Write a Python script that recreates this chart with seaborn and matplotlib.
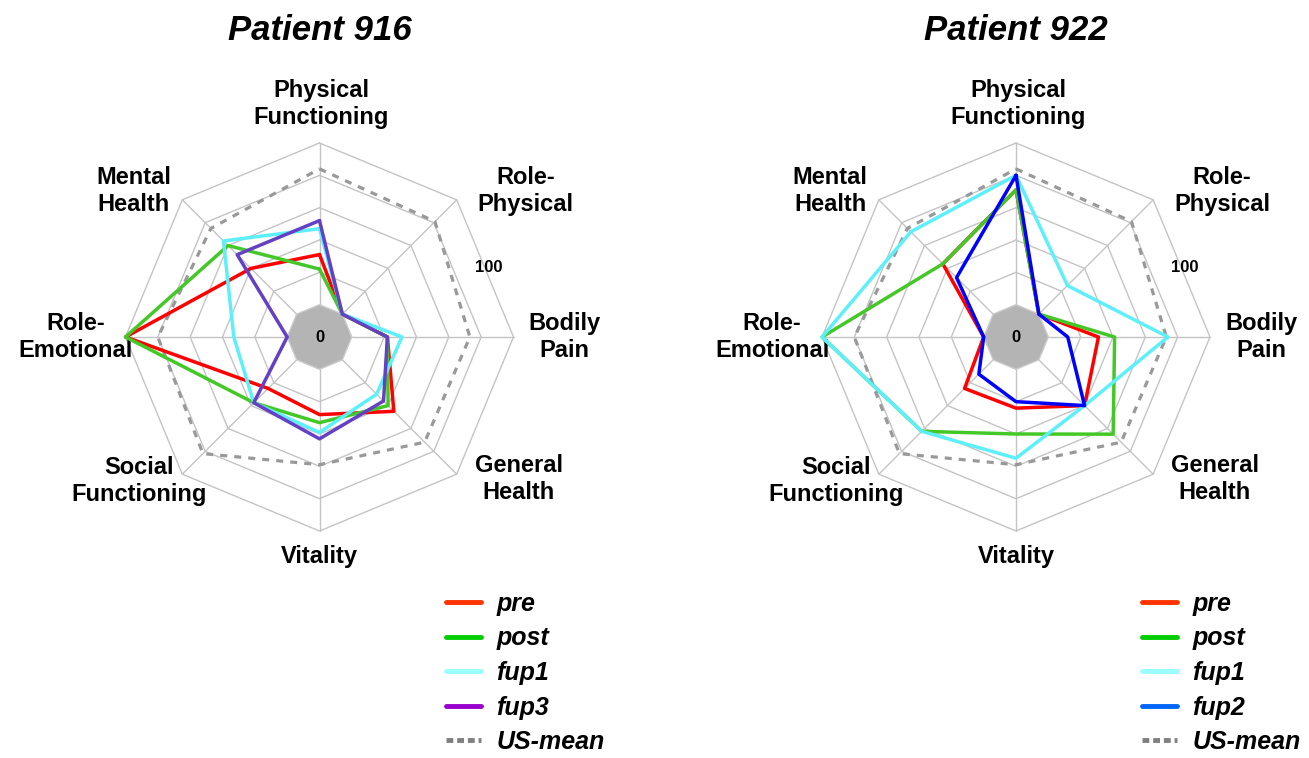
import numpy as np
import pandas as pd
import matplotlib
matplotlib.use('Agg')
import matplotlib.pyplot as plt
from matplotlib.lines import Line2D
from matplotlib.patches import RegularPolygon
import seaborn as sns

# SF-36 domains, clockwise from the top
categories = ['Physical\nFunctioning', 'Role-\nPhysical', 'Bodily\nPain', 'General\nHealth',
              'Vitality', 'Social\nFunctioning', 'Role-\nEmotional', 'Mental\nHealth']

us_mean = [84, 81, 73, 72, 59, 82, 80, 75]

p916_pre = [31, 0, 22, 45, 28, 25, 100, 40]
p916_post = [22, 0, 22, 40, 33, 37.5, 100, 60]
p916_fup1 = [47, 0, 31, 30, 39, 37.5, 33, 64]
p916_fup3 = [52, 0, 22, 36, 43, 37.5, 0, 52]

p922_pre = [71, 0, 31, 40, 24, 25, 0, 44]
p922_post = [71, 0, 41, 65, 40, 62.5, 100, 44]
p922_fup1 = [80, 25, 74, 40, 55, 62.5, 100, 72]
p922_fup2 = [80, 0, 12, 40, 20, 12.5, 0, 32]

grid_levels = [20, 40, 60, 80, 100]

line_colors = {'pre': '#ff0000', 'post': '#44c828', 'fup1': '#5ef0fa',
               'fup3': '#6440c4', 'fup2': '#0000ff'}
legend_colors = {'pre': '#ff3300', 'post': '#00cc00', 'fup1': '#99ffff',
                 'fup3': '#9900cc', 'fup2': '#0066ff'}

# label centres, offset from the chart centre in pixels (x right, y up)
label_offsets = [(2, 233), (206, 146), (245, 0), (199, -142),
                 (0, -220), (-180, -144), (-244, 0), (-186, 146)]


def make_long(series):
    rows = []
    n = len(categories)
    theta = np.linspace(0, 2 * np.pi, n, endpoint=False)
    for name, vals in series.items():
        for i in range(n + 1):
            rows.append({'visit': name, 'theta': theta[i] if i < n else 2 * np.pi,
                         'score': vals[i % n]})
    return pd.DataFrame(rows)


def radar(ax, series, title, R=194):
    n = len(categories)
    theta = np.linspace(0, 2 * np.pi, n, endpoint=False)
    closed = np.append(theta, 2 * np.pi)

    ax.set_theta_offset(np.pi / 2)
    ax.set_theta_direction(-1)
    ax.set_ylim(0, 100)
    ax.set_rorigin(-20)
    ax.grid(False)
    ax.set_xticks([])
    ax.set_yticks([])
    for s in ax.spines.values():
        s.set_visible(False)
        s.set_edgecolor('none')

    for lv in grid_levels:
        ax.plot(closed, [lv] * (n + 1), color='#c4c4c4', lw=1, zorder=1, clip_on=False)
    for t in theta:
        ax.plot([t, t], [0, 100], color='#c4c4c4', lw=1, zorder=1, clip_on=False)
    # grey hole in the middle (the 0 ring)
    ax.add_patch(RegularPolygon((0.5, 0.5), 8, radius=0.5 / 6, transform=ax.transAxes,
                                facecolor='#b4b4b4', edgecolor='#cccccc', lw=1,
                                zorder=2, clip_on=False))

    ax.plot(closed, us_mean + us_mean[:1], color='#999999', lw=2.3,
            dashes=(2.2, 2.2), zorder=3, clip_on=False)

    df = make_long(series)
    sns.lineplot(data=df, x='theta', y='score', hue='visit', hue_order=list(series),
                 palette=line_colors, sort=False, estimator=None, lw=2.5,
                 legend=False, ax=ax, zorder=4)
    for ln in ax.lines:
        ln.set_clip_on(False)
    ax.set_xlabel('')
    ax.set_ylabel('')

    ax.text(0.5, 0.5, '0', transform=ax.transAxes, ha='center', va='center',
            fontsize=12, fontweight='bold', zorder=5)
    ax.text(np.deg2rad(67.5), 93, '100', ha='center', va='center', fontsize=12,
            fontweight='bold')

    for lab, (dx, dy) in zip(categories, label_offsets):
        ax.text(0.5 + dx / (2 * R), 0.5 + dy / (2 * R), lab, transform=ax.transAxes,
                ha='center', va='center', fontsize=17, fontweight='bold')

    ax.text(0.5, 0.5 + 306 / (2 * R), title, transform=ax.transAxes, ha='center',
            va='center', fontsize=25, fontweight='bold', fontstyle='italic')

    handles = [Line2D([], [], color=legend_colors[k], lw=3.5) for k in series]
    handles.append(Line2D([], [], color='#808080', lw=3.5, dashes=(1.4, 0.8)))
    labels = list(series) + ['US-mean']
    return handles, labels


sns.set_theme(style='white')
plt.rcParams['font.family'] = ['Liberation Sans', 'DejaVu Sans']
plt.rcParams['text.color'] = 'black'

fig = plt.figure(figsize=(13.09, 7.58), dpi=100)
W, H = 1309, 758
R = 194
ax1 = fig.add_axes([(319.5 - R) / W, (H - 337 - R) / H, 2 * R / W, 2 * R / H], projection='polar')
ax2 = fig.add_axes([(1016 - R) / W, (H - 337 - R) / H, 2 * R / W, 2 * R / H], projection='polar')

h1, l1 = radar(ax1, {'pre': p916_pre, 'post': p916_post, 'fup1': p916_fup1, 'fup3': p916_fup3},
               'Patient 916')
h2, l2 = radar(ax2, {'pre': p922_pre, 'post': p922_post, 'fup1': p922_fup1, 'fup2': p922_fup2},
               'Patient 922')

leg_kw = dict(loc='upper left', bbox_transform=fig.transFigure, frameon=False,
              prop={'weight': 'bold', 'style': 'italic', 'size': 18},
              handlelength=1.4, handletextpad=0.62, labelspacing=0.42,
              borderpad=0, borderaxespad=0)
fig.legend(h1, l1, bbox_to_anchor=(446 / W, 1 - 592 / H), **leg_kw)
fig.legend(h2, l2, bbox_to_anchor=(1142 / W, 1 - 592 / H), **leg_kw)

fig.savefig('out.png', dpi=100, facecolor='white')
